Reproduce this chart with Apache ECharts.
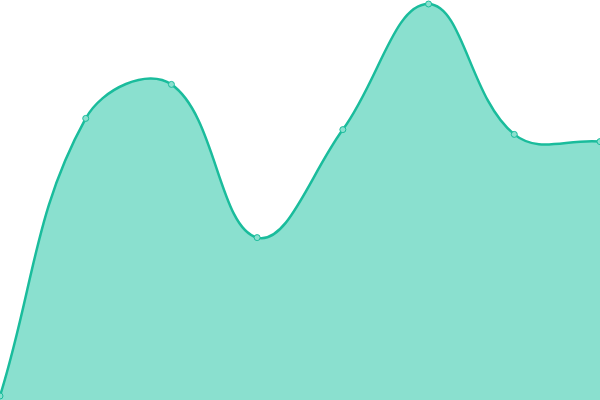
<!DOCTYPE html>
<html><head><meta charset="utf-8">
<script src="https://cdn.jsdelivr.net/npm/echarts@6/dist/echarts.min.js"></script>
<style>html,body{margin:0;padding:0;background:#fff}#c{width:600px;height:400px}</style>
</head><body><div id="c"></div>
<script>
var categories = ['1','2','3','4','5','6','7','8'];
var values = [1, 70.4, 78.9, 40.6, 67.6, 99, 66.4, 64.6];
var TENSION = 0.4;

function splinePath(pts, baseY) {
  var n = pts.length, cps = [];
  for (var i = 0; i < n; i++) {
    var p = pts[i], prev = pts[Math.max(0, i - 1)], next = pts[Math.min(n - 1, i + 1)];
    var d01 = Math.hypot(p[0] - prev[0], p[1] - prev[1]);
    var d12 = Math.hypot(next[0] - p[0], next[1] - p[1]);
    var s = d01 + d12, s01 = s ? d01 / s : 0, s12 = s ? d12 / s : 0;
    var vx = next[0] - prev[0], vy = next[1] - prev[1];
    cps.push([[p[0] - TENSION * s01 * vx, p[1] - TENSION * s01 * vy],
              [p[0] + TENSION * s12 * vx, p[1] + TENSION * s12 * vy]]);
  }
  var d = 'M' + pts[0][0] + ' ' + pts[0][1];
  for (var j = 1; j < n; j++) {
    var a = cps[j - 1][1], b = cps[j][0], c = pts[j];
    d += ' C' + a[0] + ' ' + a[1] + ' ' + b[0] + ' ' + b[1] + ' ' + c[0] + ' ' + c[1];
  }
  var area = d + ' L' + pts[n - 1][0] + ' ' + baseY + ' L' + pts[0][0] + ' ' + baseY + ' Z';
  return {line: d, area: area};
}

var chart = echarts.init(document.getElementById('c'));
chart.setOption({
  animation: false,
  grid: {left: 0, right: 0, top: 0, bottom: 0},
  xAxis: {type: 'category', data: categories, boundaryGap: false, show: false},
  yAxis: {type: 'value', min: 0, max: 100, show: false},
  series: [{
    type: 'custom',
    data: values.map(function (v, i) { return [i, v]; }),
    clip: true,
    renderItem: function (params, api) {
      if (params.dataIndex !== 0) return null;
      var pts = values.map(function (v, i) { return api.coord([i, v]); });
      var baseY = api.coord([0, 0])[1];
      var p = splinePath(pts, baseY);
      return {
        type: 'group',
        children: [
          {type: 'path', shape: {pathData: p.area}, style: {fill: '#8ae0cf', stroke: null}},
          {type: 'path', shape: {pathData: p.line}, style: {fill: null, stroke: '#1abc9c', lineWidth: 2.5}}
        ]
      };
    }
  }, {
    type: 'scatter',
    data: values.map(function (v, i) { return [i, v]; }),
    symbol: 'circle', symbolSize: 6,
    itemStyle: {color: '#8ae0cf', borderColor: '#1abc9c', borderWidth: 1, opacity: 1},
    z: 3
  }]
});
</script></body></html>
